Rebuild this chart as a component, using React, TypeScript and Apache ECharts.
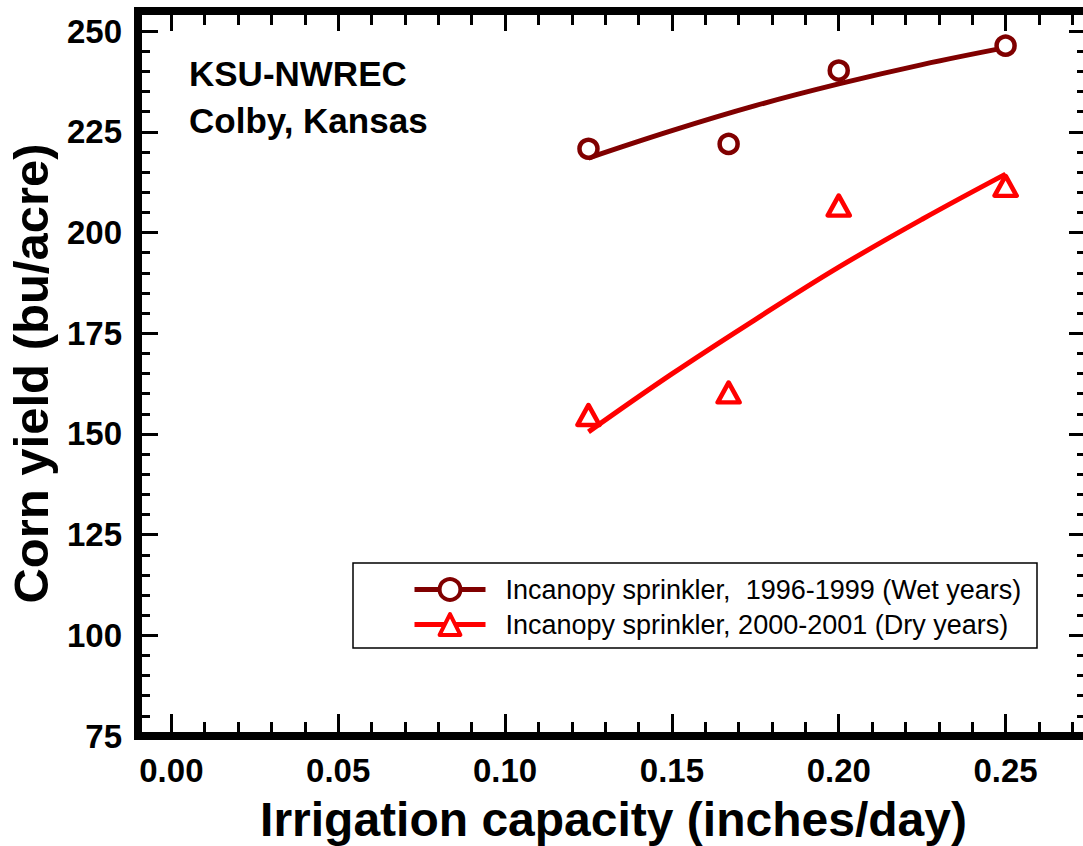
import React, { useEffect, useRef } from "react";
import * as echarts from "echarts";

const FONT = '"Liberation Sans", Arial, Helvetica, sans-serif';

const WET_NAME = "Incanopy sprinkler,  1996-1999 (Wet years)";
const DRY_NAME = "Incanopy sprinkler, 2000-2001 (Dry years)";

// measured points
const capacity = [0.125, 0.167, 0.2, 0.25];
const wetYield = [220.8, 222.0, 240.2, 246.4];
const dryYield = [154.7, 160.3, 206.7, 211.6];

// fitted curves
const wetFitX = [0.125, 0.15, 0.175, 0.2, 0.225, 0.25];
const wetFitY = [218.5, 225.3, 231.5, 236.9, 241.7, 245.9];
const dryFitX = [0.125, 0.15, 0.175, 0.2, 0.225, 0.25];
const dryFitY = [150.5, 164.9, 178.4, 191.4, 203.3, 214.5];

const xMajorTicks = [0, 0.05, 0.1, 0.15, 0.2, 0.25];
const annotationLines = ["KSU-NWREC", "Colby, Kansas"];

const WET_COLOR = "#800000";
const DRY_COLOR = "#ff0000";

export default function App() {
  const ref = useRef<HTMLDivElement>(null);

  useEffect(() => {
    if (!ref.current) return;
    const chart = echarts.init(ref.current, undefined, { renderer: "svg" });

    const axisLine = {
      show: true,
      onZero: false,
      lineStyle: { color: "#000", width: 8, cap: "square" },
    };
    const tickStyle = { color: "#000", width: 3 };

    const xCommon: any = {
      type: "value",
      min: -0.01,
      max: 0.275,
      splitLine: { show: false },
      axisLine,
    };
    const yCommon: any = {
      type: "value",
      min: 75,
      max: 255,
      splitLine: { show: false },
      axisLine,
    };

    const option: any = {
      animation: false,
      backgroundColor: "#fff",
      grid: {
        left: 138,
        right: -6,
        top: 11,
        bottom: 110,
        containLabel: false,
        outerBoundsMode: "none",
      },
      xAxis: [
        {
          ...xCommon,
          position: "bottom",
          axisTick: { inside: true, length: 22, lineStyle: tickStyle, customValues: xMajorTicks },
          axisLabel: {
            customValues: xMajorTicks,
            formatter: (v: number) => v.toFixed(2),
            fontSize: 33,
            fontWeight: "bold",
            fontFamily: FONT,
            color: "#000",
            margin: 18,
          },
          name: "Irrigation capacity (inches/day)",
          nameLocation: "middle",
          nameGap: 59,
          nameMoveOverlap: false,
          nameTextStyle: { fontSize: 48, fontWeight: "bold", fontFamily: FONT, color: "#000" },
        },
        {
          ...xCommon,
          position: "bottom",
          interval: 0.01,
          axisTick: { inside: true, length: 14, lineStyle: tickStyle },
          axisLabel: { show: false },
        },
        {
          ...xCommon,
          position: "top",
          axisTick: { inside: true, length: 20, lineStyle: tickStyle, customValues: xMajorTicks },
          axisLabel: { show: false },
        },
        {
          ...xCommon,
          position: "top",
          interval: 0.01,
          axisTick: { inside: true, length: 14, lineStyle: tickStyle },
          axisLabel: { show: false },
        },
      ],
      yAxis: [
        {
          ...yCommon,
          position: "left",
          interval: 25,
          axisTick: { inside: true, length: 20, lineStyle: tickStyle },
          axisLabel: {
            fontSize: 33,
            fontWeight: "bold",
            fontFamily: FONT,
            color: "#000",
            margin: 16,
            showMaxLabel: false,
            formatter: (v: number) => (v > 250 ? "" : String(v)),
          },
          name: "Corn yield (bu/acre)",
          nameLocation: "middle",
          nameGap: 83,
          nameMoveOverlap: false,
          nameTextStyle: { fontSize: 49, fontWeight: "bold", fontFamily: FONT, color: "#000" },
        },
        {
          ...yCommon,
          position: "left",
          interval: 5,
          axisTick: { inside: true, length: 12, lineStyle: tickStyle },
          axisLabel: { show: false },
        },
        {
          ...yCommon,
          position: "right",
          interval: 25,
          axisTick: { inside: true, length: 20, lineStyle: tickStyle },
          axisLabel: { show: false },
        },
        {
          ...yCommon,
          position: "right",
          interval: 5,
          axisTick: { inside: true, length: 12, lineStyle: tickStyle },
          axisLabel: { show: false },
        },
      ],
      legend: {
        orient: "vertical",
        left: 412,
        top: 576,
        itemWidth: 71,
        itemHeight: 26,
        itemGap: 8,
        padding: 0,
        selectedMode: false,
        textStyle: {
          fontSize: 27,
          lineHeight: 26,
          color: "#000",
          fontFamily: FONT,
          padding: [0, 0, 0, 15],
        },
        data: [
          {
            name: WET_NAME,
            itemStyle: { color: "#fff", borderColor: WET_COLOR, borderWidth: 4 },
            lineStyle: { color: WET_COLOR, width: 5 },
          },
          {
            name: DRY_NAME,
            itemStyle: { color: "#fff", borderColor: DRY_COLOR, borderWidth: 4, borderJoin: "round" },
            lineStyle: { color: DRY_COLOR, width: 5 },
          },
        ],
      },
      graphic: [
        {
          type: "rect",
          z: 1,
          shape: { x: 353, y: 563, width: 684, height: 85 },
          style: { fill: "#fff", stroke: "#000", lineWidth: 1.5 },
        },
        ...annotationLines.map((t, i) => ({
          type: "text",
          z: 5,
          style: {
            text: t,
            x: 189,
            y: 73 + i * 47,
            verticalAlign: "middle",
            align: "left",
            font: `bold 35px ${FONT}`,
            fill: "#000",
          },
        })),
      ],
      series: [
        {
          type: "line",
          name: WET_NAME,
          data: wetFitX.map((x, i) => [x, wetFitY[i]]),
          smooth: 0.4,
          showSymbol: false,
          symbol: "circle",
          lineStyle: { color: WET_COLOR, width: 5 },
          itemStyle: { color: WET_COLOR },
          z: 2,
        },
        {
          type: "scatter",
          name: WET_NAME,
          data: capacity.map((x, i) => [x, wetYield[i]]),
          symbol: "circle",
          symbolSize: 18,
          itemStyle: { color: "#fff", borderColor: WET_COLOR, borderWidth: 4.5, opacity: 1 },
          z: 3,
        },
        {
          type: "line",
          name: DRY_NAME,
          data: dryFitX.map((x, i) => [x, dryFitY[i]]),
          smooth: 0.4,
          showSymbol: false,
          symbol: "triangle",
          lineStyle: { color: DRY_COLOR, width: 5 },
          itemStyle: { color: DRY_COLOR },
          z: 2,
        },
        {
          type: "scatter",
          name: DRY_NAME,
          data: capacity.map((x, i) => [x, dryYield[i]]),
          symbol: "triangle",
          symbolSize: [22, 20],
          itemStyle: {
            color: "#fff",
            borderColor: DRY_COLOR,
            borderWidth: 4.5,
            borderJoin: "round",
            opacity: 1,
          },
          z: 3,
        },
      ],
    };

    chart.setOption(option);
    return () => chart.dispose();
  }, []);

  return (
    <div
      ref={ref}
      style={{ position: "absolute", left: 0, top: 0, width: 1083, height: 846, background: "#fff" }}
    />
  );
}
